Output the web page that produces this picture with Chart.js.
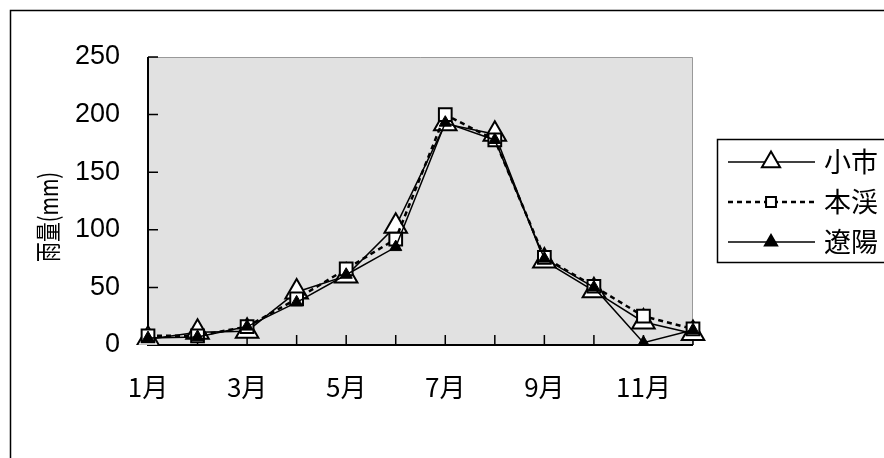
<!DOCTYPE html>
<html>
<head>
<meta charset="utf-8">
<script src="https://cdn.jsdelivr.net/npm/chart.js@4/dist/chart.umd.min.js"></script>
<style>
  html, body { margin: 0; padding: 0; background: #fff; }
</style>
</head>
<body>
<canvas id="myChart" width="884" height="458"></canvas>
<script>
const months = ["1月", "2月", "3月", "4月", "5月", "6月", "7月", "8月", "9月", "10月", "11月", "12月"];
const seriesNames = ["小市", "本渓", "遼陽"];
const xiaoshi = [5, 11, 12, 46, 60, 103, 192, 183, 73, 47, 20, 10];
const benxi = [8, 8, 16, 40, 66, 92, 200, 178, 76, 51, 25, 14];
const liaoyang = [6, 7, 16, 37, 61, 85, 193, 178, 75, 50, 2, 13];
const yTicks = [0, 50, 100, 150, 200, 250];
const yTitle = "雨量(mm)";

const cjk = "'Noto Sans CJK JP', 'Noto Sans CJK SC', sans-serif";

// grey plot area, inner tick marks, outer frame, axis title
const plotDecor = {
  id: "plotDecor",
  beforeDatasetsDraw(chart) {
    const { ctx, chartArea: a, scales } = chart;
    ctx.save();
    ctx.fillStyle = "#e1e1e1";
    ctx.fillRect(a.left, a.top, a.right - a.left, a.bottom - a.top);
    ctx.strokeStyle = "#999";
    ctx.lineWidth = 1;
    ctx.beginPath();
    ctx.moveTo(a.left, a.top + 0.5);
    ctx.lineTo(a.right - 0.5, a.top + 0.5);
    ctx.lineTo(a.right - 0.5, a.bottom);
    ctx.stroke();
    ctx.strokeStyle = "#000";
    ctx.lineWidth = 2;
    ctx.beginPath();
    ctx.moveTo(a.left, a.top);
    ctx.lineTo(a.left, a.bottom);
    ctx.lineTo(a.right, a.bottom);
    ctx.stroke();
    ctx.lineWidth = 1.5;
    ctx.beginPath();
    yTicks.forEach((v) => {
      const py = scales.y.getPixelForValue(v);
      ctx.moveTo(a.left, py);
      ctx.lineTo(a.left + 10, py);
    });
    months.forEach((m, i) => {
      const px = scales.x.getPixelForValue(i);
      ctx.moveTo(px, a.bottom);
      ctx.lineTo(px, a.bottom - 10);
    });
    ctx.stroke();
    ctx.restore();
  },
  afterDraw(chart) {
    const { ctx } = chart;
    ctx.save();
    ctx.strokeStyle = "#000";
    ctx.lineWidth = 1.5;
    ctx.strokeRect(10.5, 10.5, 900, 500);
    // y axis title
    ctx.translate(48, 217);
    ctx.rotate(-Math.PI / 2);
    ctx.fillStyle = "#000";
    ctx.font = "26px " + cjk;
    ctx.textAlign = "center";
    ctx.textBaseline = "middle";
    ctx.fillText(yTitle, 0, 0, 90);
    ctx.restore();
  },
};

function marker(ctx, style, x, y, r, fill) {
  ctx.beginPath();
  if (style === "triangle") {
    ctx.moveTo(x, y - r);
    ctx.lineTo(x + r * 0.866, y + r * 0.5);
    ctx.lineTo(x - r * 0.866, y + r * 0.5);
    ctx.closePath();
  } else {
    const s = r * 0.707;
    ctx.rect(x - s, y - s, 2 * s, 2 * s);
  }
  ctx.fillStyle = fill;
  ctx.fill();
  ctx.stroke();
}

const boxLegend = {
  id: "boxLegend",
  afterDraw(chart) {
    const { ctx } = chart;
    ctx.save();
    ctx.strokeStyle = "#000";
    ctx.lineWidth = 1.5;
    ctx.strokeRect(717.5, 139.5, 200, 123);
    const legendR = [10.5, 7, 7];
    chart.data.datasets.forEach((ds, i) => {
      const y = 162 + i * 40;
      ctx.lineWidth = ds.borderWidth;
      ctx.setLineDash(ds.borderDash || []);
      ctx.beginPath();
      ctx.moveTo(728, y);
      ctx.lineTo(815, y);
      ctx.stroke();
      ctx.setLineDash([]);
      ctx.lineWidth = 2;
      marker(ctx, ds.pointStyle, 771, y, legendR[i], ds.pointBackgroundColor);
      ctx.fillStyle = "#000";
      ctx.font = "27px " + cjk;
      ctx.textBaseline = "middle";
      ctx.fillText(ds.label, 824, y);
    });
    ctx.restore();
  },
};

const ctx = document.getElementById("myChart").getContext("2d");
const myChart = new Chart(ctx, {
  type: "line",
  data: {
    labels: months,
    datasets: [
      {
        label: seriesNames[0],
        data: xiaoshi,
        borderColor: "#000",
        borderWidth: 1.5,
        pointStyle: "triangle",
        pointRadius: 13,
        pointBackgroundColor: "#fff",
        pointBorderColor: "#000",
        pointBorderWidth: 2,
        order: 2,
      },
      {
        label: seriesNames[1],
        data: benxi,
        borderColor: "#000",
        borderWidth: 2.5,
        borderDash: [5, 4],
        pointStyle: "rect",
        pointRadius: 9,
        pointBackgroundColor: "#fff",
        pointBorderColor: "#000",
        pointBorderWidth: 2,
        order: 1,
      },
      {
        label: seriesNames[2],
        data: liaoyang,
        borderColor: "#000",
        borderWidth: 1.5,
        pointStyle: "triangle",
        pointRadius: 7,
        pointBackgroundColor: "#000",
        pointBorderColor: "#000",
        pointBorderWidth: 1,
        order: 0,
      },
    ],
  },
  options: {
    responsive: false,
    animation: false,
    layout: { padding: { top: 57, right: 191, left: 0, bottom: 0 } },
    plugins: { legend: { display: false }, tooltip: { enabled: false } },
    scales: {
      x: {
        type: "category",
        offset: false,
        grid: { display: false },
        border: { display: false },
        afterFit: (s) => { s.height = 113; },
        ticks: {
          autoSkip: false,
          maxRotation: 0,
          color: "#000",
          padding: 19,
          font: { family: cjk, size: 26 },
          callback: (v, i) => (i % 2 === 0 ? months[i] : ""),
        },
      },
      y: {
        min: 0,
        max: 250,
        grid: { display: false },
        border: { display: false },
        afterFit: (s) => { s.width = 148; },
        afterBuildTicks: (s) => { s.ticks = yTicks.map((v) => ({ value: v })); },
        ticks: {
          color: "#000",
          padding: 20,
          font: { family: "'Liberation Sans', Arial, sans-serif", size: 27 },
        },
      },
    },
  },
  plugins: [plotDecor, boxLegend],
});
</script>
</body>
</html>
